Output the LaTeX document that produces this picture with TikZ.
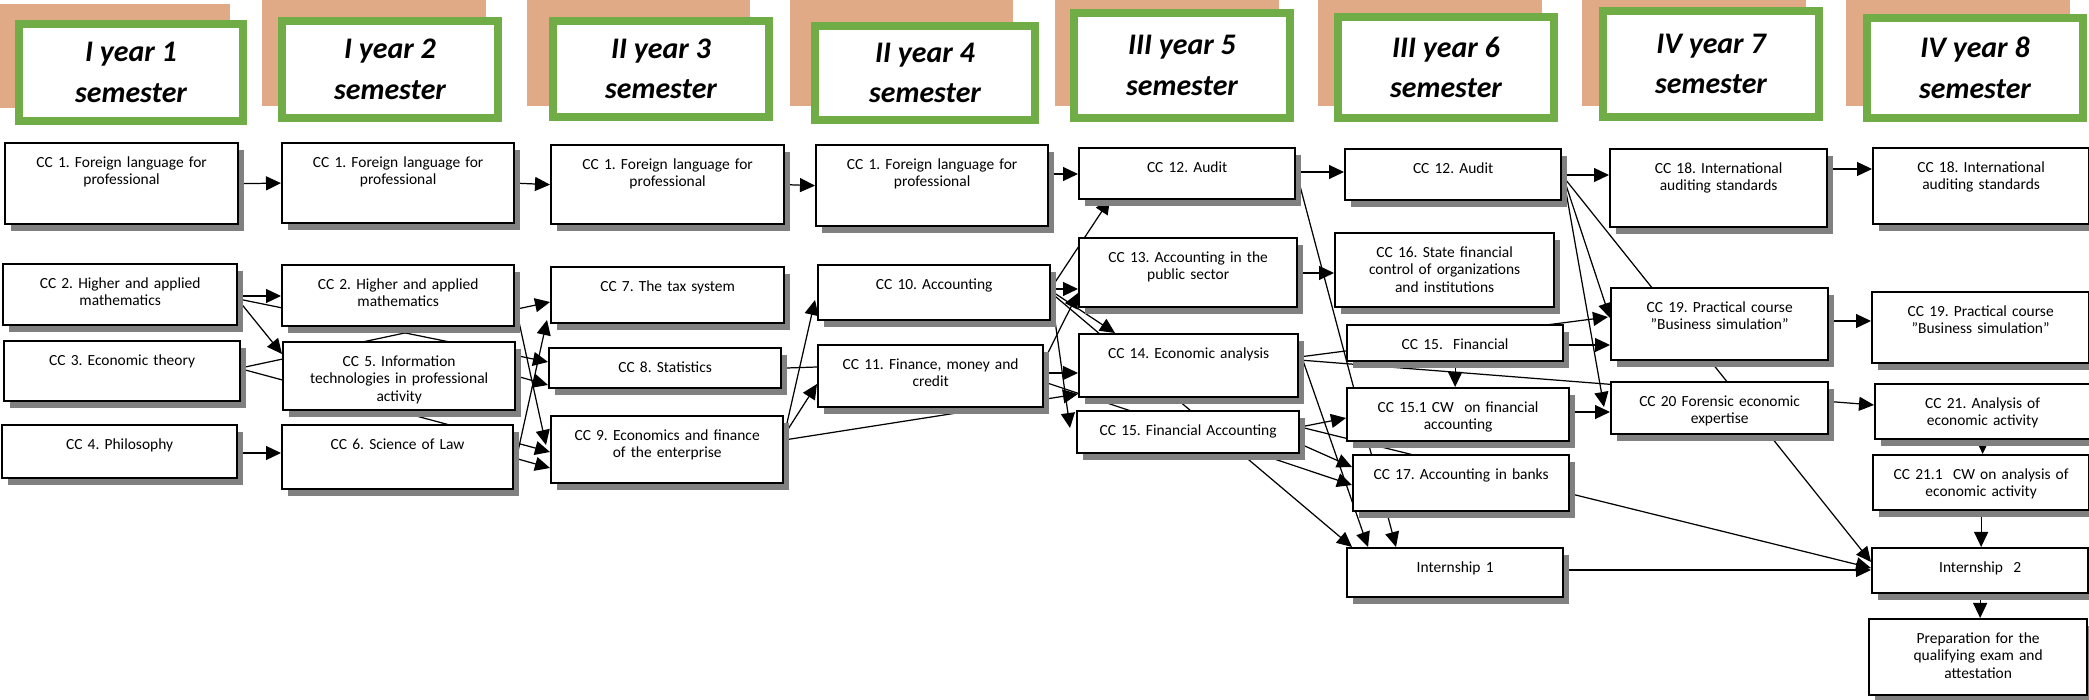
\documentclass[tikz,border=0pt]{standalone}
\usepackage{fontspec}
\setmainfont{Carlito}
\usetikzlibrary{arrows.meta}
\usetikzlibrary{shadows}
\usetikzlibrary{backgrounds}

\definecolor{peach}{RGB}{224,170,135}
\definecolor{leaf}{RGB}{112,173,71}
\definecolor{shade}{RGB}{128,128,128}

\frenchspacing

\begin{document}
\begin{tikzpicture}[x=0.2mm, y=-0.2mm,
  semester/.style={draw=leaf, line width=0.16cm, fill=white, align=center, inner sep=0pt,
    font=\fontsize{17}{23}\selectfont\bfseries\itshape},
  course/.style={draw, line width=1.3pt, fill=white, anchor=north west, align=center,
    inner xsep=0pt, inner ysep=0pt, text height=0.48cm, font=\fontsize{8.8}{10}\selectfont,
    drop shadow={shadow xshift=0.12cm, shadow yshift=-0.14cm, fill=shade, opacity=1}},
  link/.style={line width=0.7pt, -{Triangle[length=0.3cm, width=0.28cm]}},
  joint/.style={line width=0.7pt}]

  \useasboundingbox (0,0) rectangle (2089,700);

  % ---------- Semester headers ----------
  \fill[peach] (0,4) rectangle (230,108);
  \fill[peach] (262,0) rectangle (486,106);
  \fill[peach] (527,0) rectangle (750,106);
  \fill[peach] (790,0) rectangle (1013,106);
  \fill[peach] (1055,0) rectangle (1279,106);
  \fill[peach] (1318,0) rectangle (1542,106);
  \fill[peach] (1582,0) rectangle (1806,106);
  \fill[peach] (1846,0) rectangle (2070,106);

  \node[semester, minimum width=4.48cm, minimum height=1.94cm] at (131,72.5) (S1) {I year 1\\semester};
  \node[semester, minimum width=4.32cm, minimum height=1.94cm] at (390,69.5) (S2) {I year 2\\semester};
  \node[semester, minimum width=4.32cm, minimum height=1.92cm] at (661,69) (S3) {II year 3\\semester};
  \node[semester, minimum width=4.40cm, minimum height=1.88cm] at (925,73) (S4) {II year 4\\semester};
  \node[semester, minimum width=4.32cm, minimum height=2.10cm] at (1182,65.5) (S5) {III year 5\\semester};
  \node[semester, minimum width=4.32cm, minimum height=2.02cm] at (1446,67.5) (S6) {III year 6\\semester};
  \node[semester, minimum width=4.32cm, minimum height=2.12cm] at (1711,64) (S7) {IV year 7\\semester};
  \node[semester, minimum width=4.32cm, minimum height=2.00cm] at (1975,68) (S8) {IV year 8\\semester};

  % ---------- I year ----------
  \node[course, text width=4.66cm, text depth=1.14cm] at (4,142) (FL1) {CC 1. Foreign language for\\professional};
  \node[course, text width=4.68cm, text depth=0.74cm] at (2,263) (HM1) {CC 2. Higher and applied\\mathematics};
  \node[course, text width=4.72cm, text depth=0.72cm] at (3,340) (ET) {CC 3. Economic theory};
  \node[course, text width=4.70cm, text depth=0.58cm] at (1,424) (PH) {CC 4. Philosophy};

  \node[course, text width=4.64cm, text depth=1.12cm] at (281,142) (FL2) {CC 1. Foreign language for\\professional};
  \node[course, text width=4.64cm, text depth=0.74cm] at (281,264) (HM2) {CC 2. Higher and applied\\mathematics};
  \node[course, text width=4.64cm, text depth=0.88cm] at (282,341) (IT) {CC 5. Information\\technologies in professional\\activity};
  \node[course, text width=4.62cm, text depth=0.80cm] at (281,424) (SL) {CC 6. Science of Law};

  % ---------- II year ----------
  \node[course, text width=4.66cm, text depth=1.10cm] at (550,144) (FL3) {CC 1. Foreign language for\\professional};
  \node[course, text width=4.66cm, text depth=0.64cm] at (550,266) (TS) {CC 7. The tax system};
  \node[course, text width=4.64cm, text depth=0.32cm] at (548,347) (ST) {CC 8. Statistics};
  \node[course, text width=4.64cm, text depth=0.86cm] at (550,415) (EF) {CC 9. Economics and finance\\of the enterprise};

  \node[course, text width=4.64cm, text depth=1.14cm] at (815,144) (FL4) {CC 1. Foreign language for\\professional};
  \node[course, text width=4.64cm, text depth=0.62cm] at (817,264) (AC) {CC 10. Accounting};
  \node[course, text width=4.50cm, text depth=0.76cm] at (817,344) (FM) {CC 11. Finance, money and\\credit};

  % ---------- III year ----------
  \node[course, text width=4.32cm, text depth=0.54cm] at (1078,147) (AU5) {CC 12. Audit};
  \node[course, text width=4.36cm, text depth=0.90cm] at (1078,237) (AP) {CC 13. Accounting in the\\public sector};
  \node[course, text width=4.38cm, text depth=0.78cm] at (1078,333) (EA) {CC 14. Economic analysis};
  \node[course, text width=4.44cm, text depth=0.36cm] at (1076,410) (FA) {CC 15. Financial Accounting};

  \node[course, text width=4.32cm, text depth=0.54cm] at (1344,148) (AU6) {CC 12. Audit};
  \node[course, text width=4.38cm, text depth=1.00cm] at (1334,232) (SF) {CC 16. State financial\\control of organizations\\and institutions};
  \node[course, text width=4.32cm, text depth=0.24cm] at (1346,324) (FI) {CC 15.~ Financial};
  \node[course, text width=4.44cm, text depth=0.58cm] at (1346,387) (CW) {CC 15.1 CW~ on financial\\accounting};
  \node[course, text width=4.32cm, text depth=0.64cm] at (1352,454) (AB) {CC 17. Accounting in banks};
  \node[course, text width=4.32cm, text depth=0.50cm] at (1346,547) (IN1) {Internship 1};

  % ---------- IV year ----------
  \node[course, text width=4.34cm, text depth=1.08cm] at (1609,148) (IS7) {CC 18. International\\auditing standards};
  \node[course, text width=4.34cm, text depth=0.96cm] at (1610,287) (BS7) {CC 19. Practical course\\"Business simulation”};
  \node[course, text width=4.34cm, text depth=0.56cm] at (1610,381) (FE) {CC 20 Forensic economic\\expertise};

  \node[course, text width=4.32cm, text depth=1.04cm] at (1872,147) (IS8) {CC 18. International\\auditing standards};
  \node[course, text width=4.34cm, text depth=0.94cm] at (1871,291) (BS8) {CC 19. Practical course\\"Business simulation”};
  \node[course, text width=4.30cm, text depth=0.62cm] at (1874,383) (AE) {CC 21. Analysis of\\economic activity};
  \node[course, text width=4.32cm, text depth=0.62cm] at (1872,454) (CWA) {CC 21.1~ CW on analysis of\\economic activity};
  \node[course, text width=4.32cm, text depth=0.42cm] at (1871,547) (IN2) {Internship~ 2};
  \node[course, text width=4.36cm, text depth=1.04cm] at (1868,618) (PR) {Preparation for the\\qualifying exam and\\attestation};

  % ---------- Links (behind the boxes) ----------
  \begin{pgfonlayer}{background}
    % I year
    \draw[link] (FL1.east) -- (FL2.west);
    \draw[link] ([shift={(0,33)}]HM1.north east) -- ([shift={(0,32)}]HM2.north west);
    \draw[link] ([shift={(0,37)}]HM1.north east) -- ([shift={(0,13)}]IT.north west);
    \draw[link] ([shift={(0,36)}]HM1.north east) -- ([shift={(0,15)}]ST.north west);
    \draw[link] ([shift={(4,27)}]ET.north east) -- ([shift={(0,36)}]TS.north west);
    \draw[link] ([shift={(4,30)}]ET.north east) -- ([shift={(0,37)}]EF.north west);
    \draw[link] ([shift={(0,29)}]PH.north east) -- ([shift={(0,29)}]SL.north west);
    \draw[link] (FL2.east) -- (FL3.west);
    \draw[link] ([shift={(0,41)}]HM2.north east) -- ([shift={(-4,30)}]EF.north west);
    \draw[link] ([shift={(0,35)}]IT.north east) -- ([shift={(0,38)}]ST.north west);
    \draw[link] ([shift={(4,26)}]SL.north east) -- ([shift={(-3,54)}]TS.north west);
    \draw[link] ([shift={(0,34)}]SL.north east) -- ([shift={(0,53)}]EF.north west);

    % II year
    \draw[link] (FL3.east) -- (FL4.west);
    \draw[joint] (ST.east) -- ([shift={(0,23)}]FM.north west);
    \draw[link] ([shift={(0,20)}]EF.north east) -- ([shift={(-2,36)}]AC.north west);
    \draw[link] ([shift={(0,20)}]EF.north east) -- ([shift={(0,40)}]FM.north west);
    \draw[link] ([shift={(0,25)}]EF.north east) -- ([shift={(0,61)}]EA.north west);
    \draw[link] ([shift={(0,30)}]FL4.north east) -- ([shift={(0,27)}]AU5.north west);
    \draw[link] ([shift={(0,24)}]AC.north east) -- ([shift={(32,52)}]AU5.north west);
    \draw[link] ([shift={(0,25)}]AC.north east) -- ([shift={(0,52)}]AP.north west);
    \draw[link] ([shift={(0,27)}]AC.north east) -- ([shift={(37,0)}]EA.north west);
    \draw[link] ([shift={(0,29)}]AC.north east) -- ([shift={(6,0)}]IN1.north west);
    \draw[link] ([shift={(0,30)}]AC.north east) -- ([shift={(-6,18)}]FA.north west);
    \draw[link] ([shift={(0,16)}]FM.north east) -- ([shift={(0,56)}]AP.north west);
    \draw[link] ([shift={(0,29)}]FM.north east) -- ([shift={(0,40)}]EA.north west);
    \draw[link] ([shift={(0,38)}]FM.north east) -- ([shift={(0,31)}]AB.north west);

    % III year
    \draw[link] ([shift={(0,25)}]AU5.north east) -- ([shift={(0,24)}]AU6.north west);
    \draw[link] ([shift={(0,25)}]AU5.north east) -- ([shift={(50,0)}]IN1.north west);
    \draw[link] ([shift={(0,36)}]AP.north east) -- ([shift={(0,41)}]SF.north west);
    \draw[link] ([shift={(0,24)}]EA.north east) -- ([shift={(-2,30)}]BS7.north west);
    \draw[link] ([shift={(0,27)}]EA.north east) -- ([shift={(0,22)}]AE.north west);
    \draw[link] ([shift={(0,17)}]EA.north east) -- ([shift={(22,0)}]IN1.north west);
    \draw[link] ([shift={(0,17)}]FA.north east) -- ([shift={(0,31)}]CW.north west);
    \draw[link] ([shift={(0,34)}]FA.north east) -- ([shift={(0,13)}]AB.north west);
    \draw[link] ([shift={(0,17)}]FA.north east) -- ([shift={(0,21)}]IN2.north west);
    \draw[link] ([shift={(0,27)}]AU6.north east) -- ([shift={(0,27)}]IS7.north west);
    \draw[link] ([shift={(2,32)}]AU6.north east) -- ([shift={(0,31)}]BS7.north west);
    \draw[link] ([shift={(2,34)}]AU6.north east) -- ([shift={(-6,26)}]FE.north west);
    \draw[link] ([shift={(2,30)}]AU6.north east) -- ([shift={(0,15)}]IN2.north west);
    \draw[link] ([shift={(0,21)}]FI.north east) -- ([shift={(0,58)}]BS7.north west);
    \draw[link] (FI.south) -- (FI.south |- CW.north);
    \draw[link] ([shift={(0,25)}]CW.north east) -- ([shift={(0,31)}]FE.north west);
    \draw[link] ([shift={(0,23)}]IN1.north east) -- ([shift={(0,23)}]IN2.north west);

    % IV year
    \draw[link] ([shift={(0,21)}]IS7.north east) -- ([shift={(0,22)}]IS8.north west);
    \draw[link] ([shift={(0,34)}]BS7.north east) -- ([shift={(0,30)}]BS8.north west);
    \draw[link] (AE.south) -- (AE.south |- CWA.north);
    \draw[link] (CWA.south) -- (CWA.south |- IN2.north);
    \draw[link] (IN2.south) -- (IN2.south |- PR.north);
  \end{pgfonlayer}
\end{tikzpicture}
\end{document}
